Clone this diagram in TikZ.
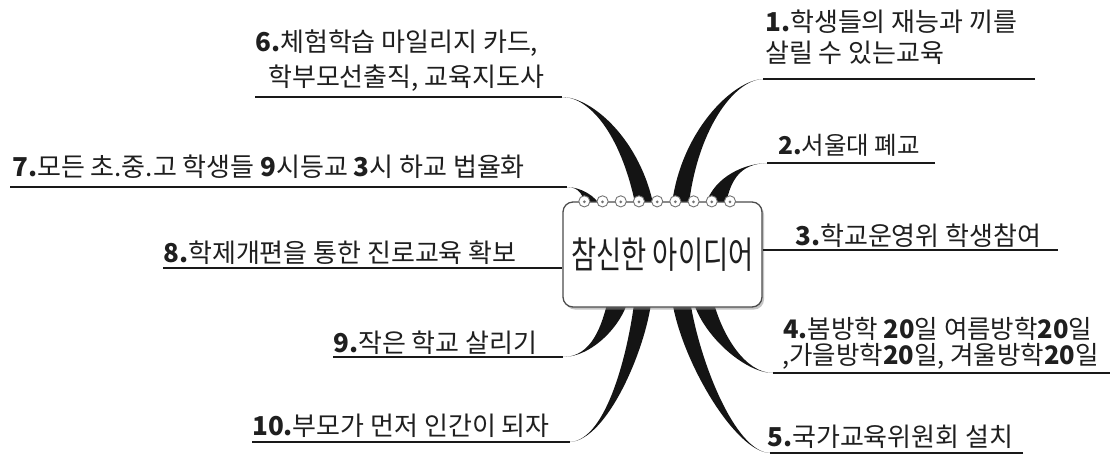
\documentclass[tikz,border=0pt]{standalone}
\usepackage{fontspec}
\setmainfont{Noto Sans CJK KR}
\newfontfamily\krc[FakeStretch=0.74]{Noto Sans CJK KR}
\usetikzlibrary{calc,shadows}
\tikzset{
  lbl/.style={anchor=base west, inner sep=0pt, text=black!88, font=\fontsize{26}{30}\selectfont},
  ul/.style={draw=black!90, line width=1.6pt},
  spike/.style={fill=black!92},
  centrebox/.style={draw=black!70, line width=1.3pt, fill=white, rounded corners=10pt,
     minimum width=199pt, minimum height=105pt, inner sep=0pt,
     font=\krc\fontsize{37}{40}\selectfont, text=black!88,
     drop shadow={shadow xshift=2pt, shadow yshift=-2.5pt, fill=black!45, opacity=.5}},
  ring/.style={draw=black!55, line width=0.9pt, fill=white}
}
\newcommand\taper[6]{% start, c1, c2, attach, halfwidth
  \fill[spike] (#1) .. controls (#2) and ($(#3)+(-#5,0)$) .. ($(#4)+(-#5,0)$)
     -- ($(#4)+(#5,0)$) .. controls ($(#3)+(#5,0)$) and (#2) .. (#1) -- cycle;}
\begin{document}
\begin{tikzpicture}[x=1pt,y=-1pt]
\fill[white] (0,0) rectangle (1110,459);
\useasboundingbox (0,0) rectangle (1110,459);

% underline end points and attach points
\coordinate (s1) at (1035,79);  \coordinate (e1) at (763,79);  \coordinate (a1) at (680,208);
\coordinate (s2) at (935,163);  \coordinate (e2) at (767,163); \coordinate (a2) at (715,208);
\coordinate (s3) at (1058,250);
\coordinate (s4) at (1110,373); \coordinate (e4) at (773,373); \coordinate (a4) at (703,300);
\coordinate (s5) at (1023,453); \coordinate (e5) at (770,453); \coordinate (a5) at (681,300);
\coordinate (s6) at (255,97);   \coordinate (e6) at (562,97);  \coordinate (a6) at (645,208);
\coordinate (s7) at (10,187);   \coordinate (e7) at (567,187); \coordinate (a7) at (594,208);
\coordinate (s8) at (163,268);
\coordinate (s9) at (333,357);  \coordinate (e9) at (563,357); \coordinate (a9) at (618,300);
\coordinate (s10) at (252,442); \coordinate (e10) at (570,442); \coordinate (a10) at (643,300);

% control points
\coordinate (p1) at (733,80);  \coordinate (q1) at (688,132);
\coordinate (p2) at (738,164); \coordinate (q2) at (720,182);
\coordinate (p4) at (745,373); \coordinate (q4) at (712,335);
\coordinate (p5) at (735,452); \coordinate (q5) at (690,360);
\coordinate (p6) at (592,97);  \coordinate (q6) at (632,140);
\coordinate (p7) at (580,187); \coordinate (q7) at (590,196);
\coordinate (p9) at (592,357); \coordinate (q9) at (612,325);
\coordinate (p10) at (607,440); \coordinate (q10) at (637,350);

% tapered branches
\taper{e1}{p1}{q1}{a1}{8.5}{}
\taper{e2}{p2}{q2}{a2}{10}{}
\taper{e4}{p4}{q4}{a4}{10}{}
\taper{e5}{p5}{q5}{a5}{9}{}
\taper{e6}{p6}{q6}{a6}{9}{}
\taper{e7}{p7}{q7}{a7}{7}{}
\taper{e9}{p9}{q9}{a9}{10}{}
\taper{e10}{p10}{q10}{a10}{8.5}{}

% central box
\node[centrebox] (c) at (662.5,254.5) {참신한 아이디어};

% underlines
\draw[ul] (s1) -- (e1);
\draw[ul] (s2) -- (e2);
\draw[ul] (c.east |- s3) -- (s3);
\draw[ul] (s4) -- (e4);
\draw[ul] (s5) -- (e5);
\draw[ul] (s6) -- (e6);
\draw[ul] (s7) -- (e7);
\draw[ul] (s8) -- (c.west |- s8);
\draw[ul] (s9) -- (e9);
\draw[ul] (s10) -- (e10);

% spiral rings
\foreach \i in {0,...,8} {
  \draw[ring] ($(c.north west)+(22+18.2*\i,0)$) circle[radius=5.6pt];
  \fill[black!55] ($(c.north west)+(22+18.2*\i,0.5)$) circle[radius=1.5pt];
}

% labels
\node[lbl] (t1a) at (765,31) {\textbf{1.}학생들의 재능과 끼를};
\node[lbl] (t1b) at (765,62) {살릴 수 있는교육};
\node[lbl, font=\fontsize{24.5}{28}\selectfont] (t2) at (778,154) {\textbf{2.}서울대 폐교};
\node[lbl] (t3) at (795,245) {\textbf{3.}학교운영위 학생참여};
\node[lbl, font=\fontsize{25.5}{28}\selectfont] (t4a) at (783,338) {\textbf{4.}봄방학 \textbf{20}일 여름방학\textbf{20}일};
\node[lbl, font=\fontsize{25.5}{28}\selectfont] (t4b) at (782,364) {,가을방학\textbf{20}일, 겨울방학\textbf{20}일};
\node[lbl] (t5) at (767,446) {\textbf{5.}국가교육위원회 설치};
\node[lbl] (t6a) at (255,51) {\textbf{6.}체험학습 마일리지 카드,};
\node[lbl] (t6b) at (268,86) {학부모선출직, 교육지도사};
\node[lbl] (t7) at (12,176) {\textbf{7.}모든 초.중.고 학생들 \textbf{9}시등교 \textbf{3}시 하교 법율화};
\node[lbl] (t8) at (163,262) {\textbf{8.}학제개편을 통한 진로교육 확보};
\node[lbl] (t9) at (333,352) {\textbf{9.}작은 학교 살리기};
\node[lbl] (t10) at (252,435) {\textbf{10.}부모가 먼저 인간이 되자};
\end{tikzpicture}
\end{document}
